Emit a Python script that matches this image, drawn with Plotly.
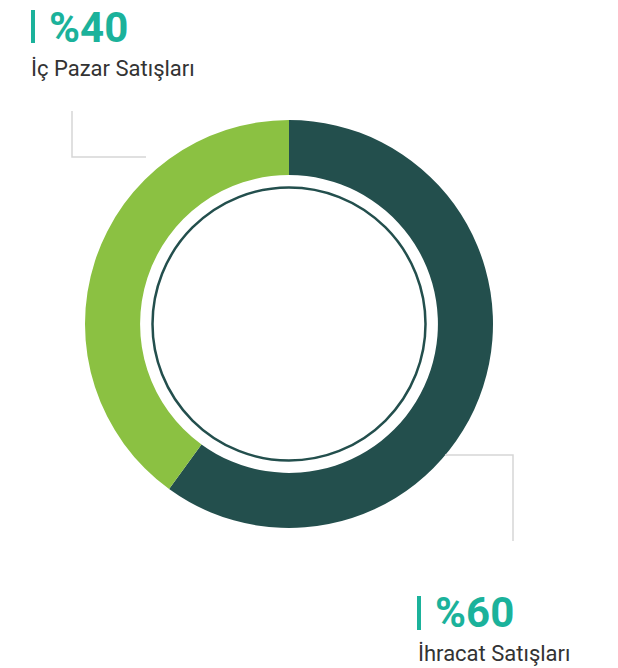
import plotly.graph_objects as go

# Data
categories = ["İhracat Satışları", "İç Pazar Satışları"]
shares = [60, 40]
colors = ["#234f4d", "#8bc142"]

# page has an 8px body margin; coordinates below are page pixels
OFF = 8
W, H = 618 - OFF, 668 - OFF
TEAL = "#1bb29b"

def px(x):
    return (x - OFF) / W

def py(y):
    return 1 - (y - OFF) / H

fig = go.Figure()
fig.add_trace(go.Pie(
    labels=categories,
    values=shares,
    marker=dict(colors=colors, line=dict(width=0)),
    hole=0.73,
    sort=False,
    direction="clockwise",
    rotation=0,
    textinfo="none",
    hoverinfo="none",
    showlegend=False,
    domain=dict(x=[px(85), px(493)], y=[py(528), py(120)]),
))

shapes = []
# inner thin ring
r = 136.5
cx, cy = 289, 324
shapes.append(dict(type="circle", xref="paper", yref="paper",
                   x0=px(cx - r), x1=px(cx + r), y0=py(cy + r), y1=py(cy - r),
                   line=dict(color="#234f4d", width=2.5)))
# leader lines
grey = "#d6d6d6"
shapes.append(dict(type="path", xref="paper", yref="paper",
                   path=f"M {px(72)} {py(111)} L {px(72)} {py(157)} L {px(146)} {py(157)}",
                   line=dict(color=grey, width=1.5)))
shapes.append(dict(type="path", xref="paper", yref="paper",
                   path=f"M {px(445)} {py(455)} L {px(513)} {py(455)} L {px(513)} {py(541)}",
                   line=dict(color=grey, width=1.5)))
# teal bars
shapes.append(dict(type="rect", xref="paper", yref="paper",
                   x0=px(31), x1=px(35), y0=py(43), y1=py(10),
                   fillcolor=TEAL, line=dict(width=0)))
shapes.append(dict(type="rect", xref="paper", yref="paper",
                   x0=px(417), x1=px(421), y0=py(630), y1=py(596),
                   fillcolor=TEAL, line=dict(width=0)))

annotations = []
# (category index, pct x, pct y-middle, label x, label y-middle)
placements = [(1, 47, 27, 29, 69), (0, 433, 612, 416, 653)]
for idx, pxx, pyy, lx, ly in placements:
    annotations.append(dict(xref="paper", yref="paper", x=px(pxx), y=py(pyy),
                            xanchor="left", yanchor="middle", showarrow=False,
                            text=f"<b>%{shares[idx]}</b>",
                            font=dict(family="Roboto", size=42, color=TEAL)))
    annotations.append(dict(xref="paper", yref="paper", x=px(lx), y=py(ly),
                            xanchor="left", yanchor="middle", showarrow=False,
                            text=categories[idx],
                            font=dict(family="Roboto", size=22, color="#333333")))

fig.update_layout(
    width=W, height=H,
    margin=dict(l=0, r=0, t=0, b=0),
    paper_bgcolor="white", plot_bgcolor="white",
    shapes=shapes, annotations=annotations,
)

fig.write_html("out.html")
